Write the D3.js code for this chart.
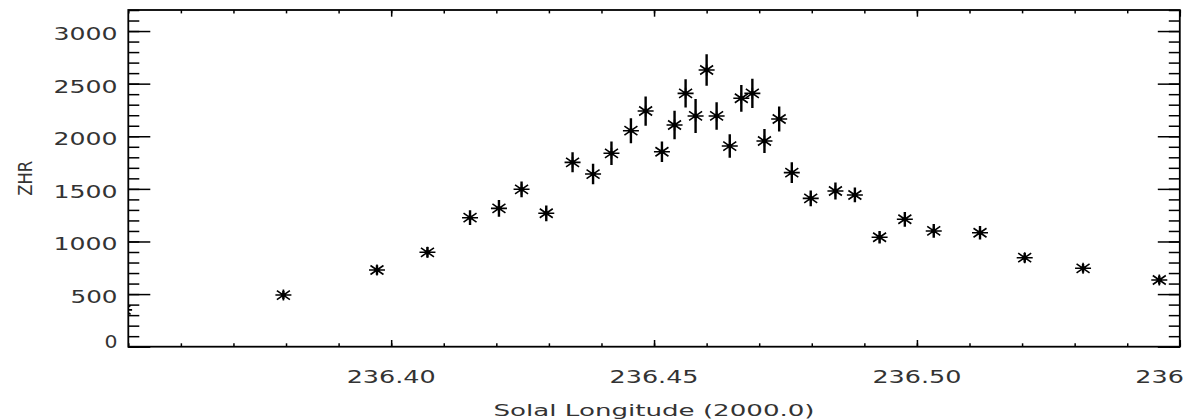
<!DOCTYPE html>
<html>
<head>
<meta charset="utf-8">
<script src="https://cdn.jsdelivr.net/npm/d3@7"></script>
<style>
  html, body { margin: 0; padding: 0; background: #fff; }
  svg { display: block; }
</style>
</head>
<body>
<svg id="chart" width="1183" height="420"></svg>
<script>
// ---- data ----
const solarLongitude = [236.3492, 236.3795, 236.3973, 236.4069, 236.4150, 236.4205, 236.4248, 236.4295,
  236.4345, 236.4384, 236.4419, 236.4456, 236.4484, 236.4515, 236.4539, 236.4560, 236.4579, 236.4600,
  236.4619, 236.4644, 236.4666, 236.4687, 236.4710, 236.4738, 236.4762, 236.4798, 236.4845, 236.4882,
  236.4929, 236.4977, 236.5032, 236.5120, 236.5205, 236.5316, 236.5461];
const zhrValues = [350, 491, 729, 897, 1226, 1315, 1496, 1268,
  1752, 1641, 1838, 2053, 2240, 1853, 2107, 2408, 2193, 2630,
  2193, 1907, 2361, 2408, 1955, 2164, 1654, 1410, 1480, 1442,
  1040, 1211, 1100, 1083, 846, 745, 634];
const zhrErrors = [40, 40, 45, 50, 70, 80, 75, 75,
  95, 98, 112, 119, 139, 98, 135, 135, 162, 149,
  130, 111, 127, 139, 114, 119, 98, 75, 80, 70,
  60, 70, 65, 65, 45, 40, 40];

const xTickValues = [236.40, 236.45, 236.50, 236.55];
const xTickLabels = ["236.40", "236.45", "236.50", "236.55"];
const yTickValues = [0, 500, 1000, 1500, 2000, 2500, 3000];
const yTickLabels = ["0", "500", "1000", "1500", "2000", "2500", "3000"];
const xTitle = "Solal Longitude (2000.0)";
const yTitle = "ZHR";

// ---- layout ----
const W = 1183, H = 420;
const m = { l: 128.3, t: 10, r: 1179.8, b: 346.7 };
const svg = d3.select("#chart");

const x = d3.scaleLinear().domain([236.35, 236.55]).range([m.l, m.r]);
const y = d3.scaleLinear().domain([0, 3200]).range([m.b, m.t]);

const xMinor = d3.range(0, 21).map(i => +(236.35 + i * 0.01).toFixed(2));
const yMinor = d3.range(0, 33).map(i => i * 100);

const tickStroke = 1.5;
function styleAxis(g) {
  g.select(".domain").remove();
  g.selectAll(".tick line").attr("stroke", "#000").attr("stroke-width", tickStroke);
  g.selectAll(".tick text").remove();
}
// bottom / top
svg.append("g").attr("transform", `translate(0,${m.b})`)
  .call(d3.axisBottom(x).tickValues(xMinor).tickSize(-3.4).tickFormat("")).call(styleAxis);
svg.append("g").attr("transform", `translate(0,${m.b})`)
  .call(d3.axisBottom(x).tickValues(xTickValues).tickSize(-6.7).tickFormat("")).call(styleAxis);
svg.append("g").attr("transform", `translate(0,${m.t})`)
  .call(d3.axisTop(x).tickValues(xMinor).tickSize(-3.4).tickFormat("")).call(styleAxis);
svg.append("g").attr("transform", `translate(0,${m.t})`)
  .call(d3.axisTop(x).tickValues(xTickValues).tickSize(-6.7).tickFormat("")).call(styleAxis);
// left / right
svg.append("g").attr("transform", `translate(${m.l},0)`)
  .call(d3.axisLeft(y).tickValues(yMinor).tickSize(-11).tickFormat("")).call(styleAxis);
svg.append("g").attr("transform", `translate(${m.l},0)`)
  .call(d3.axisLeft(y).tickValues(yTickValues).tickSize(-22).tickFormat("")).call(styleAxis);
svg.append("g").attr("transform", `translate(${m.r},0)`)
  .call(d3.axisRight(y).tickValues(yMinor).tickSize(-11).tickFormat("")).call(styleAxis);
svg.append("g").attr("transform", `translate(${m.r},0)`)
  .call(d3.axisRight(y).tickValues(yTickValues).tickSize(-22).tickFormat("")).call(styleAxis);

// frame
svg.append("rect")
  .attr("x", m.l).attr("y", m.t)
  .attr("width", m.r - m.l).attr("height", m.b - m.t)
  .attr("fill", "none").attr("stroke", "#000").attr("stroke-width", 1.8);

// label width model (wide vector-font look)
function labelWidth(s) {
  let w = 0;
  for (let i = 0; i < s.length; i++) {
    const c = s[i];
    const last = i === s.length - 1;
    if (c === ".") w += 8; else w += last ? 13 : 17;
  }
  return w;
}
const fontFam = "'DejaVu Sans', sans-serif";
const textFill = "#333";

// y tick labels
svg.append("g").selectAll("text").data(yTickValues).join("text")
  .attr("x", (d, i) => 117.5 - labelWidth(yTickLabels[i]))
  .attr("y", d => Math.min(y(d) + 9, 348))
  .attr("textLength", (d, i) => labelWidth(yTickLabels[i]))
  .attr("lengthAdjust", "spacingAndGlyphs")
  .attr("font-family", fontFam).attr("font-size", 17).attr("fill", textFill)
  .text((d, i) => yTickLabels[i]);

// x tick labels
svg.append("g").selectAll("text").data(xTickValues).join("text")
  .attr("x", (d, i) => x(d) - labelWidth(xTickLabels[i]) / 2)
  .attr("y", 383)
  .attr("textLength", (d, i) => labelWidth(xTickLabels[i]))
  .attr("lengthAdjust", "spacingAndGlyphs")
  .attr("font-family", fontFam).attr("font-size", 17).attr("fill", textFill)
  .text((d, i) => xTickLabels[i]);

// axis titles
const xMid = (m.l + m.r) / 2;
const xtW = 321;
svg.append("text")
  .attr("x", xMid - xtW / 2).attr("y", 416)
  .attr("textLength", xtW).attr("lengthAdjust", "spacingAndGlyphs")
  .attr("font-family", fontFam).attr("font-size", 16).attr("fill", textFill)
  .text(xTitle);
const yMid = (m.t + m.b) / 2;
const ytW = 35;
svg.append("text")
  .attr("transform", `translate(32,${yMid + ytW / 2}) rotate(-90)`)
  .attr("x", 0).attr("y", 0)
  .attr("textLength", ytW).attr("lengthAdjust", "spacingAndGlyphs")
  .attr("font-family", fontFam).attr("font-size", 20).attr("fill", textFill)
  .text(yTitle);

// clip for data
svg.append("clipPath").attr("id", "plotclip")
  .append("rect").attr("x", m.l).attr("y", m.t)
  .attr("width", m.r - m.l).attr("height", m.b - m.t);

const pts = solarLongitude.map((sl, i) => ({ sl, v: zhrValues[i], e: zhrErrors[i] }));
const dataG = svg.append("g").attr("clip-path", "url(#plotclip)");

// error bars
dataG.selectAll("line.err").data(pts).join("line")
  .attr("class", "err")
  .attr("x1", d => x(d.sl)).attr("x2", d => x(d.sl))
  .attr("y1", d => y(d.v - d.e)).attr("y2", d => y(d.v + d.e))
  .attr("stroke", "#000").attr("stroke-width", 2.4);

// asterisk symbols
const star = "M-8,0H8M0,-5.5V5.5M-6.5,-4.5L6.5,4.5M-6.5,4.5L6.5,-4.5";
const sym = dataG.selectAll("g.sym").data(pts).join("g")
  .attr("class", "sym")
  .attr("transform", d => `translate(${x(d.sl)},${y(d.v)})`);
sym.append("path").attr("d", star).attr("fill", "none")
  .attr("stroke", "#000").attr("stroke-width", 1.6);
sym.append("circle").attr("r", 2.4).attr("fill", "#000");
</script>
</body>
</html>
